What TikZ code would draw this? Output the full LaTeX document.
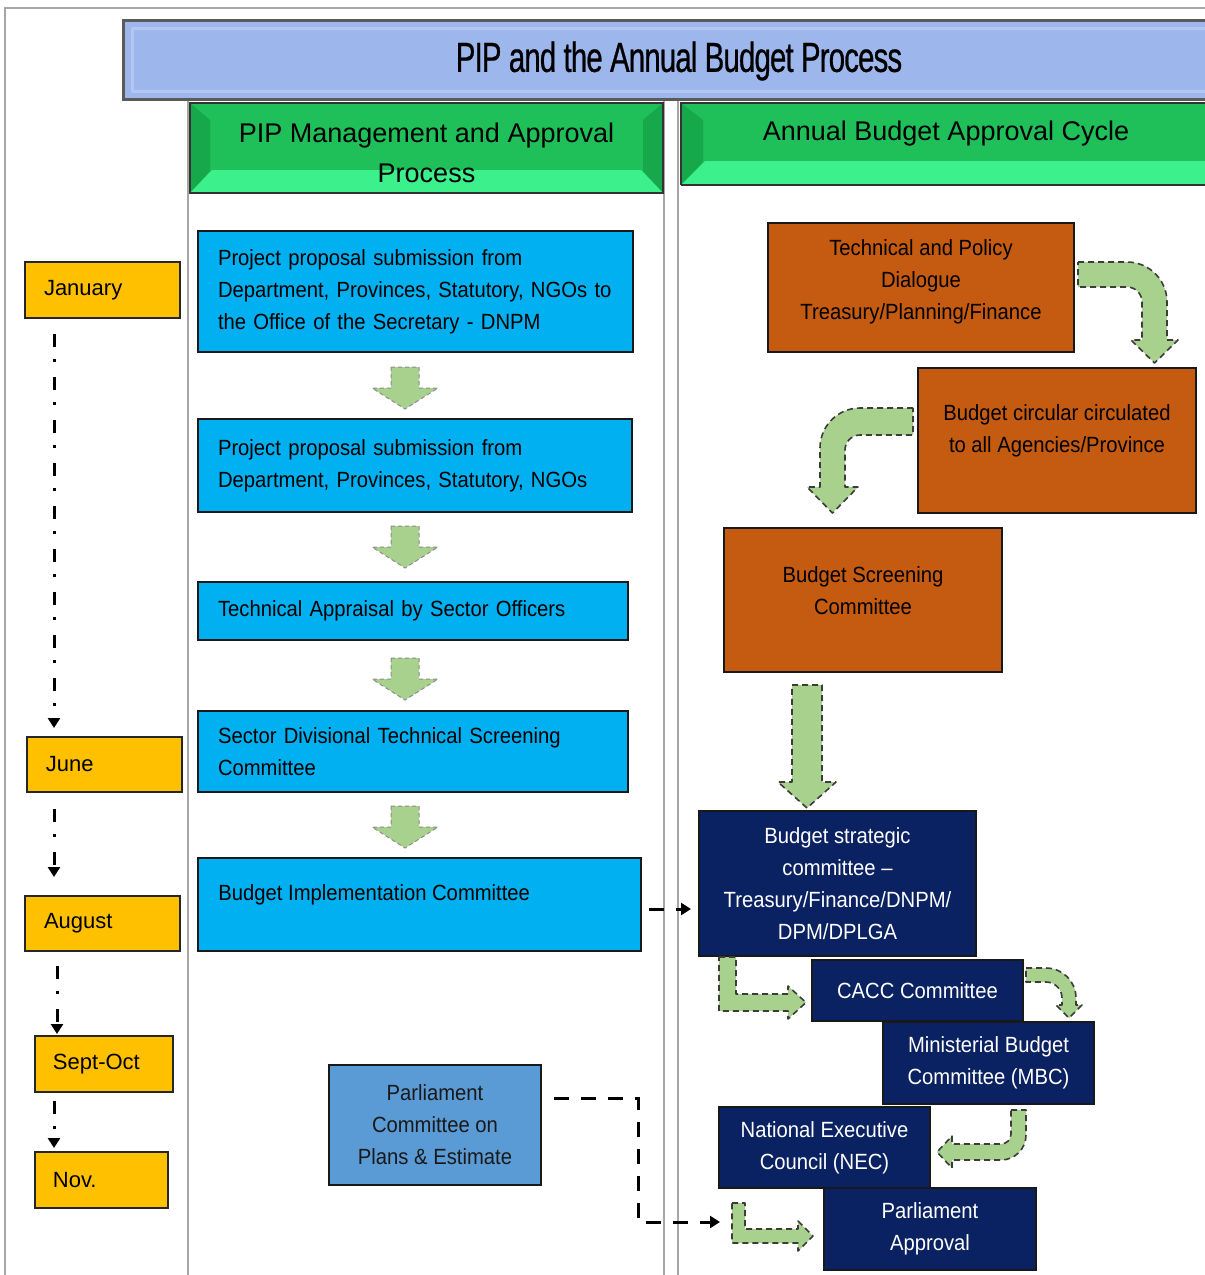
\documentclass[tikz,border=0pt]{standalone}
\usepackage{fontspec}
\setmainfont{Liberation Sans}
\newfontfamily\bodyfont[FakeStretch=0.92]{Liberation Sans}
\newfontfamily\titlefont[FakeStretch=0.7,FakeBold=0.6,LetterSpace=-2]{Liberation Sans}
\usetikzlibrary{arrows.meta,calc}

\definecolor{titleblue}{HTML}{9DB6EC}
\definecolor{titlehi}{HTML}{B2C6F2}
\definecolor{titleedge}{HTML}{5A5A5A}
\definecolor{hdrgreen}{HTML}{1FC05A}
\definecolor{hdrdark}{HTML}{17A84C}
\definecolor{hdrlight}{HTML}{3CF08C}
\definecolor{pipblue}{HTML}{00B0F0}
\definecolor{budgetorange}{HTML}{C55A11}
\definecolor{navy}{HTML}{0B2262}
\definecolor{monthgold}{HTML}{FFC000}
\definecolor{steelblue}{HTML}{5B9BD5}
\definecolor{arrowgreen}{HTML}{A9D18E}
\definecolor{arrowedge}{HTML}{3C3C3C}
\definecolor{framegray}{HTML}{A6A6A6}

\newcommand\txtbody{\bodyfont\fontsize{11}{16}\selectfont}
\newcommand\txtmonth{\fontsize{11}{14}\selectfont}
\newcommand\txthead{\fontsize{13.5}{20}\selectfont}
\newcommand\txttitle{\titlefont\fontsize{21}{24}\selectfont}

\begin{document}
\begin{tikzpicture}[x=0.5pt,y=-0.5pt,
  box/.style={draw=black!90, line width=1pt, inner ysep=0pt, font=\txtbody},
  pipbox/.style={box, fill=pipblue, align=left, inner xsep=10pt},
  orangebox/.style={box, fill=budgetorange, text=black!90, align=center},
  navybox/.style={box, fill=navy, text=white, align=center},
  steelbox/.style={box, fill=steelblue, text=black!90, align=center},
  monthbox/.style={draw=black!85, line width=1pt, fill=monthgold, inner ysep=0pt,
    align=left, font=\txtmonth, minimum height=28pt},
  boxtext/.style={font=\txtbody, align=center, inner sep=0pt},
  garrow/.style={fill=arrowgreen, draw=arrowedge, line width=0.8pt,
    dash pattern=on 3pt off 2pt, line join=round},
  gsmall/.style={fill=arrowgreen, draw=black!45, line width=0.5pt,
    dash pattern=on 2pt off 1.5pt},
  flowdash/.style={draw=black, line width=1.5pt, dash pattern=on 7.5pt off 6pt,
    -{Triangle[length=5pt,width=6pt]}},
  monthflow/.style={draw=black, line width=1.5pt,
    dash pattern=on 6.5pt off 6pt on 1.5pt off 7.5pt,
    -{Triangle[length=5pt,width=6pt]}},
  colline/.style={draw=framegray, line width=1pt}
]
\useasboundingbox (0,0) rectangle (1205,1275);
\clip (0,0) rectangle (1205,1275);
\fill[white] (0,0) rectangle (1205,1275);

% outer frame and column rules
\draw[colline] (5,1275) -- (5,8) -- (1205,8);
\draw[colline] (188,99) -- (188,1275);
\draw[colline] (664,99) -- (664,1275);
\draw[colline] (678,99) -- (678,1275);

% title bar
\fill[titleblue] (123,20) rectangle (1215,99);
\draw[titlehi, line width=1.5pt] (132,28) rectangle (1215,91);
\draw[titleedge, line width=1.5pt] (123,20) rectangle (1215,99);
\node[font=\txttitle, inner sep=0pt] (title) at (679,61) {PIP and the Annual Budget Process};

% column headers
\fill[hdrgreen] (190,103) rectangle (663,193);
\fill[hdrdark] (190,103) -- (210,120) -- (210,171) -- (190,193) -- cycle;
\fill[hdrdark] (663,103) -- (643,120) -- (643,171) -- (663,193) -- cycle;
\fill[hdrlight] (190,193) -- (212,170) -- (641,170) -- (663,193) -- cycle;
\draw[black!80, line width=1pt] (190,103) rectangle (663,193);
\node[font=\txthead, align=center, inner sep=0pt] (hdrpip) at (426.5,153) {PIP Management and Approval\\Process};

\fill[hdrgreen] (681,103) rectangle (1215,185);
\fill[hdrdark] (681,103) -- (703,120) -- (703,162) -- (681,185) -- cycle;
\fill[hdrlight] (681,185) -- (705,161) -- (1215,161) -- (1215,185) -- cycle;
\draw[black!80, line width=1pt] (681,185) -- (681,103) -- (1215,103);
\draw[black!80, line width=1pt] (681,185) -- (1215,185);
\node[font=\txthead, inner sep=0pt] (hdrbudget) at (946,134) {Annual Budget Approval Cycle};

% PIP management boxes
\node[pipbox, minimum width=217.5pt, minimum height=60.5pt, text width=197.5pt] (p1) at (415.5,291.5)
  {Project proposal submission from\\Department, Provinces, Statutory, NGOs to\\the Office of the Secretary - DNPM};
\node[pipbox, minimum width=217pt, minimum height=46.5pt, text width=197pt] (p2) at (415,465.5)
  {Project proposal submission from\\Department, Provinces, Statutory, NGOs};
\node[pipbox, minimum width=215pt, minimum height=29pt, text width=195pt] (p3) at (413,611)
  {Technical Appraisal by Sector Officers};
\node[pipbox, minimum width=215pt, minimum height=40.5pt, text width=195pt] (p4) at (413,751.5)
  {Sector Divisional Technical Screening\\Committee};
\node[pipbox, minimum width=221.5pt, minimum height=46.5pt] (impl) at (419.5,904.5) {};
\node[boxtext, anchor=west] (impl-t) at (218,895) {Budget Implementation Committee};

% arrows between PIP boxes
\foreach \t in {367,526,658,806}
  \draw[gsmall] (391,\t) -- (419,\t) -- (419,\t+21) -- (438,\t+21) -- (405,\t+42)
    -- (372,\t+21) -- (391,\t+21) -- cycle;

% budget cycle boxes
\node[orangebox, minimum width=153pt, minimum height=64.5pt] (dialogue) at (921,287.5) {};
\node[boxtext] (dialogue-t) at (921,282) {Technical and Policy\\Dialogue\\Treasury/Planning/Finance};
\node[orangebox, minimum width=139pt, minimum height=72.5pt] (circ) at (1057,440.5) {};
\node[boxtext] (circ-t) at (1057,431) {Budget circular circulated\\to all Agencies/Province};
\node[orangebox, minimum width=139pt, minimum height=72pt] (screen) at (863,600) {};
\node[boxtext] (screen-t) at (863,591) {Budget Screening\\Committee};

\node[navybox, minimum width=138.5pt, minimum height=72.5pt] (strat) at (837.5,883.5)
  {Budget strategic\\committee \textendash\\Treasury/Finance/DNPM/\\DPM/DPLGA};
\node[navybox, minimum width=105.5pt, minimum height=30.5pt] (cacc) at (917.5,990.5) {CACC Committee};
\node[navybox, minimum width=105.5pt, minimum height=41pt] (mbc) at (988.5,1063)
  {Ministerial Budget\\Committee (MBC)};
\node[navybox, minimum width=105.5pt, minimum height=40.5pt] (nec) at (824.5,1147.5)
  {National Executive\\Council (NEC)};
\node[navybox, minimum width=106pt, minimum height=41pt] (parl) at (930,1229)
  {Parliament\\Approval};

\node[steelbox, minimum width=106pt, minimum height=60pt] (pc) at (435,1125)
  {Parliament\\Committee on\\Plans \& Estimate};

% green flow arrows of the budget cycle
\draw[garrow] (1078,262) -- (1127,262) arc[start angle=-90,end angle=0,radius=40]
  -- (1167,340) -- (1178,340) -- (1154.5,363) -- (1131,340) -- (1142,340)
  -- (1142,302) arc[start angle=0,end angle=-90,radius=15] -- (1078,287) -- cycle;
\draw[garrow] (913,408) -- (860,408) arc[start angle=-90,end angle=-180,radius=40]
  -- (820,487) -- (807,487) -- (832.5,513) -- (858,487) -- (845,487)
  -- (845,450) arc[start angle=180,end angle=270,radius=15] -- (913,435) -- cycle;
\draw[garrow] (792,685) -- (822,685) -- (822,782) -- (836,782) -- (807,808)
  -- (778,782) -- (792,782) -- cycle;
\draw[garrow] (719,957) -- (736,957) -- (736,994) -- (788,994) -- (788,986)
  -- (806,1002.5) -- (788,1019) -- (788,1011) -- (719,1011) -- cycle;
\draw[garrow] (1026,968) -- (1046,968) arc[start angle=-90,end angle=0,radius=30]
  -- (1076,1005) -- (1082,1005) -- (1069,1018) -- (1056,1005) -- (1062,1005)
  -- (1062,998) arc[start angle=0,end angle=-90,radius=16] -- (1026,982) -- cycle;
\draw[garrow] (1011,1110) -- (1026,1110) -- (1026,1135) arc[start angle=0,end angle=90,radius=25]
  -- (952,1160) -- (952,1168) -- (937,1152) -- (952,1136) -- (952,1144)
  -- (1001,1144) arc[start angle=90,end angle=0,radius=10] -- cycle;
\draw[garrow] (732,1203) -- (745,1203) -- (745,1229) -- (798,1229) -- (798,1221)
  -- (813,1236) -- (798,1251) -- (798,1243) -- (732,1243) -- cycle;

% dashed links between the two columns
\draw[flowdash] ($(impl.east)+(7,4.5)$) -- ($(impl.east -| strat.west)+(-7,4.5)$);
\coordinate (pend) at (720,1222);
\draw[flowdash] ($(pc.north east)+(12,34)$) -- ++(84,0) |- (pend);

% months
\node[monthbox, minimum width=77.5pt, inner xsep=9.5pt, text width=58.5pt] (jan) at (102.5,290) {January};
\node[monthbox, minimum width=77.5pt, inner xsep=9.5pt, text width=58.5pt, minimum height=27.5pt] (jun) at (104.5,764.5) {June};
\node[monthbox, minimum width=77.5pt, inner xsep=9.5pt, text width=58.5pt, minimum height=27.5pt] (aug) at (102.5,923.5) {August};
\node[monthbox, minimum width=69pt, inner xsep=9pt, text width=51pt] (sep) at (104,1064) {Sept-Oct};
\node[monthbox, minimum width=66.5pt, inner xsep=9pt, text width=48.5pt] (nov) at (101.5,1180) {Nov.};

\draw[monthflow] ($(jan.south west)+(30,15)$) -- ($(jun.north west)+(28,-8)$);
\draw[monthflow] ($(jun.south west)+(28,16)$) -- ($(aug.north west)+(30,-18)$);
\draw[monthflow] ($(aug.south west)+(33,14)$) -- ($(sep.north west)+(23,-1)$);
\draw[monthflow] ($(sep.south west)+(20,8)$) -- ($(nov.north west)+(20,-3)$);
\end{tikzpicture}
\end{document}
